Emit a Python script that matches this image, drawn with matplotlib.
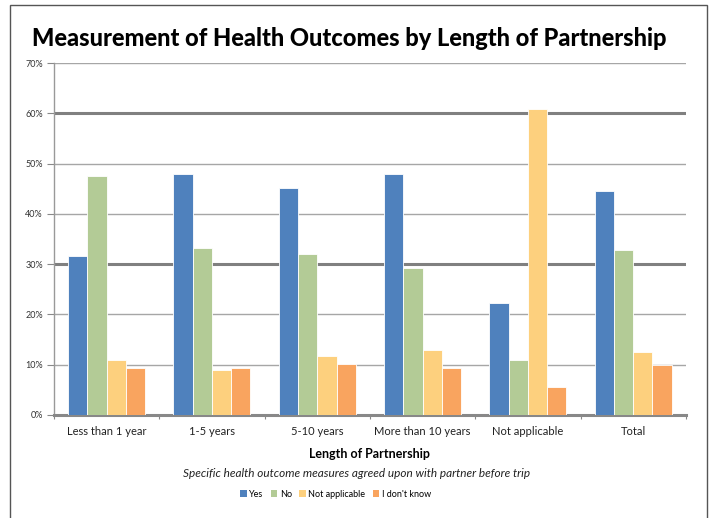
import matplotlib
matplotlib.use('Agg')
import matplotlib.pyplot as plt
import numpy as np
from matplotlib.patches import Rectangle, Patch

plt.rcParams['font.family'] = ['Lato', 'DejaVu Sans']

categories = ['Less than 1 year', '1-5 years', '5-10 years',
              'More than 10 years', 'Not applicable', 'Total']
series = ['Yes', 'No', 'Not applicable', "I don't know"]
yes = [31.7, 48.0, 45.2, 48.0, 22.2, 44.5]
no = [47.6, 33.2, 32.1, 29.3, 10.9, 32.8]
not_applicable = [10.9, 9.0, 11.7, 12.9, 60.8, 12.5]
dont_know = [9.4, 9.4, 10.2, 9.4, 5.5, 9.9]
yticks = [0, 10, 20, 30, 40, 50, 60, 70]

colors = ['#4F81BD', '#B3CB96', '#FDD07E', '#F9A45F']
values = [yes, no, not_applicable, dont_know]

fig = plt.figure(figsize=(7.14, 5.18), dpi=100)
ax = fig.add_axes([0.0756, 0.199, 0.885, 0.679])

x = np.arange(len(categories))
w = 0.183
for i, (vals, col, name) in enumerate(zip(values, colors, series)):
    ax.bar(x + (i - 1.5) * w, vals, width=w, color=col, edgecolor='white',
           linewidth=0.6, label=name, zorder=3)

ax.set_xlim(-0.5, len(categories) - 0.5)
ax.set_ylim(0, 70)
ax.set_yticks(yticks)
ax.set_yticklabels(['{}%'.format(t) for t in yticks], fontsize=6.5, color='#333333')
ax.tick_params(axis='y', length=5, width=0.8, color='#888888', pad=3)

# horizontal grid, with heavier lines at 30% and 60%
for t in yticks[1:]:
    heavy = t in (30, 60)
    ax.axhline(t, color='#808080' if heavy else '#a6a6a6',
               linewidth=2.2 if heavy else 1.0, zorder=1)

ax.set_xticks(x)
ax.set_xticklabels(categories, fontsize=8, color='#222222')
ax.tick_params(axis='x', length=0, pad=8)
ax.set_xticks(np.arange(-0.5, len(categories)), minor=True)
ax.tick_params(axis='x', which='minor', length=3, width=0.8, color='#888888')

for s in ['top', 'right']:
    ax.spines[s].set_visible(False)
ax.spines['left'].set_color('#999999')
ax.spines['left'].set_linewidth(1.0)
ax.spines['bottom'].set_color('#888888')
ax.spines['bottom'].set_linewidth(2.2)

ax.set_xlabel('Length of Partnership', fontsize=9, fontweight='bold', labelpad=8)

fig.text(0.489, 0.925, 'Measurement of Health Outcomes by Length of Partnership',
         ha='center', va='center', fontsize=17, fontweight='black')
fig.text(0.5, 0.085, 'Specific health outcome measures agreed upon with partner before trip',
         ha='center', va='center', fontsize=8.5, style='italic', color='#222222')

handles = [Patch(facecolor=c, edgecolor='none', label=n) for c, n in zip(colors, series)]
fig.legend(handles=handles, loc='center', bbox_to_anchor=(0.47, 0.046), ncol=4,
           frameon=False, fontsize=6.5, handlelength=0.7, handleheight=0.7,
           handletextpad=0.3, columnspacing=0.8)

# outer chart frame
fig.patches.append(Rectangle((0.014, -0.05), 0.976, 1.04, transform=fig.transFigure,
                             fill=False, edgecolor='#555555', linewidth=1.0))

fig.savefig('out.png', dpi=100)
